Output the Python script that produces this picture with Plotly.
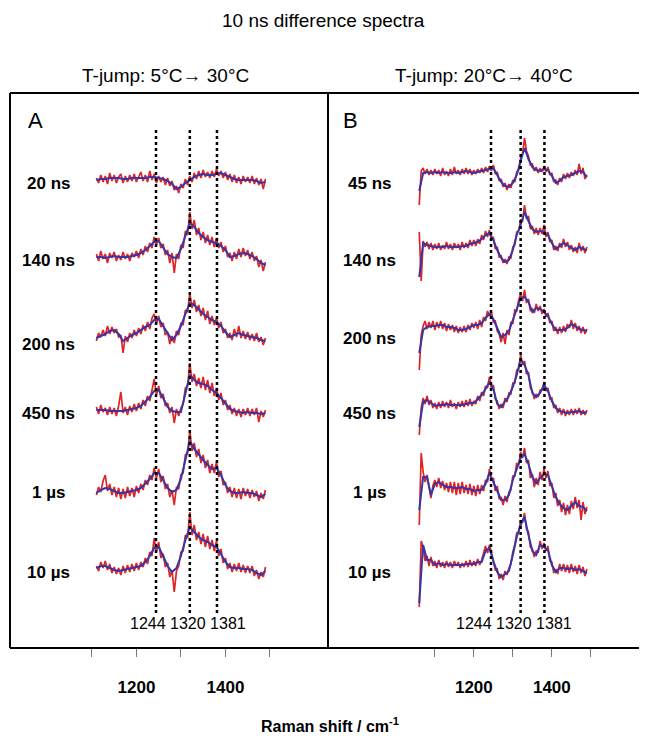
import plotly.graph_objects as go

W, H = 647, 736

# ---------------- data ----------------
peaks = [1244, 1320, 1381]
labels_A = ["20 ns", "140 ns", "200 ns", "450 ns", "1 µs", "10 µs"]
labels_B = ["45 ns", "140 ns", "200 ns", "450 ns", "1 µs", "10 µs"]
major_ticks = [1200, 1400]
major_text = ["<b>1200</b>", "<b>1400</b>"]
minor_ticks = [1100, 1300, 1500]

x_blue_A = list(range(1110, 1500, 10))
x_red_A = list(range(1110, 1495, 5))
x_blue_B = list(range(1060, 1500, 10))
x_red_B = list(range(1060, 1495, 5))

blue_A = [
    [0,1,1,2,2,2,1,1,2,2,2,2,3,3,2,1,-1,-4,-9,-7,-3,0,3,5,6,5,5,6,7,5,3,1,0,0,0,0,-1,-3,-2],
    [0,0,-1,0,1,0,0,0,1,2,4,7,11,15,16,10,3,0,-1,8,20,34,30,24,20,17,15,14,11,7,0,1,3,4,3,1,-2,-6,-8],
    [0,2,4,7,8,4,-3,0,3,5,8,11,13,18,19,12,4,-2,3,12,24,35,33,28,24,21,18,16,12,6,1,3,5,3,2,1,0,-2,-3],
    [0,0,0,-1,-1,-1,-1,0,1,2,4,8,13,19,20,12,3,-1,-2,-2,18,35,30,27,26,24,20,17,12,6,1,-1,-2,-3,-2,-3,-3,-4,-3],
    [0,3,5,4,2,0,0,1,2,3,5,9,14,20,20,13,5,1,3,14,32,52,44,38,33,28,24,25,18,8,2,0,0,1,0,0,-2,-4,-1],
    [0,2,2,0,-2,-3,-2,-1,0,1,2,6,12,20,21,12,2,-4,0,12,28,41,36,31,28,26,23,21,14,6,1,0,0,-1,-1,-2,-5,-7,-3],
]
red_A = [
    [2,-3,5,-2,4,-4,7,-1,5,-3, 3,6,-3,4,-2,5,-1,6,-2,4, 8,-1,5,-2,9,0,6,-3,4,-2, 3,-5,2,-6,-1,-10,-6,-13,-4,-8,
     1,-5,4,-2,7,1,9,2,10,3, 8,2,9,3,11,4,9,2,8,0, 6,-2,5,-3,3,-4,4,-2,3,-3, 4,-4,2,-5,1,-9,1],
    [3,-4,6,-2,3,-6,4,-1,5,-4, 2,-3,5,-2,3,-4,4,0,6,-1, 8,2,11,5,14,9,20,12,19,9, 13,2,7,-6,4,-16,3,-2,12,9,
     26,22,45,28,37,22,29,17,25,14, 22,12,20,10,19,9,15,5,11,0, 4,-4,5,-2,8,0,9,1,7,-2, 5,-4,1,-10,-3,-14,-5],
    [-3,5,1,8,2,12,4,11,5,9, 1,3,-15,2,-4,5,0,8,2,10, 4,13,7,16,9,20,24,14,22,11, 15,3,6,-6,2,-5,7,3,15,13,
     28,26,45,30,38,26,33,22,30,18, 27,14,22,13,20,10,16,5,9,0, 5,-2,9,1,12,0,7,-1,6,-2, 4,-3,5,-4,1,-7,0],
    [3,-4,5,-2,2,-5,3,-4,2,-6, 4,18,-3,3,-5,4,-2,6,-1,7, 1,10,4,14,9,20,31,15,24,12, 16,4,7,-3,3,-13,1,-6,2,6,
     22,24,47,28,36,24,32,22,33,20, 30,17,27,14,22,10,17,5,10,0, 5,-4,2,-6,1,-7,1,-5,2,-6, 1,-5,2,-12,-1,-7,0],
    [-2,6,1,12,18,2,9,-2,6,-4, 5,-6,4,-5,6,-3,5,-4,7,0, 9,3,13,8,18,13,25,15,24,11, 17,4,9,-4,3,-12,6,4,18,20,
     38,40,62,42,50,36,44,30,38,25, 33,20,29,20,31,16,22,8,11,0, 6,-4,5,-5,4,-6,5,-3,4,-5, 3,-4,2,-8,0,-6,3],
    [2,-3,6,0,7,-2,4,-5,1,-6, 0,-7,2,-5,3,-4,4,-3,5,-2, 6,1,10,4,16,12,30,16,26,10, 14,1,5,-9,-2,-24,-3,2,16,17,
     33,30,56,33,43,28,36,24,34,21, 32,19,28,17,27,12,19,5,10,-1, 5,-4,4,-3,5,-4,3,-5,2,-5, 2,-8,-2,-11,-4,-9,1],
]
blue_B = [
    [-18,0,1,0,1,0,1,0,0,1,0,1,2,1,0,1,2,3,4,5,-2,-9,-13,-14,-10,-2,12,25,14,6,3,2,4,3,-3,-10,-8,-4,-3,-2,0,2,1,-4],
    [-30,4,2,1,0,0,0,1,0,0,0,1,1,3,4,5,8,12,14,7,-3,-11,-15,-13,-3,12,22,35,26,18,15,16,15,12,4,-2,1,4,2,-1,-3,0,-2,-3],
    [-23,0,3,4,4,5,5,3,3,2,0,0,1,3,5,5,7,12,16,11,2,-7,-5,-1,10,22,32,33,28,18,22,21,18,14,6,0,0,0,2,6,4,1,0,-1],
    [-22,3,5,2,-1,0,0,1,0,0,0,0,1,2,2,6,10,16,23,16,1,-2,4,9,18,30,46,40,30,12,8,12,20,14,4,-3,-6,-7,-8,-7,-7,-6,-8,-7],
    [-20,13,13,-5,6,8,5,3,3,2,2,3,1,1,-1,0,0,6,17,8,0,-10,-10,-5,10,22,32,36,26,13,7,12,16,15,3,-7,-14,-18,-20,-16,-12,-16,-17,-21],
    [-38,20,5,5,0,2,0,1,0,0,0,0,1,1,1,3,3,14,17,4,-7,-12,-9,-6,10,28,40,48,30,14,10,20,18,15,0,-7,-3,-3,-4,-3,-5,-4,-6,-8],
]
red_B = [
    [-32,2,5,-1,4,-2,3,-2,4,-1, 3,-3,5,-2,2,-3,4,-2,6,-1, 3,-2,4,-1,5,-1,4,-2,3,-1, 4,0,5,0,6,1,7,2,8,-1,
     1,-8,-6,-14,-10,-17,-11,-15,-7,-9, 1,3,15,20,35,22,17,8,9,2, 6,0,5,1,7,1,6,-2,0,-9,
     -7,-12,-5,-9,-1,-6,0,-5,1,-3, 3,-2,9,-1,5,-6,-2],
    [15,-34,6,0,5,-2,4,-3,3,-2, 4,-3,2,-2,5,-2,3,-3,4,-1, 3,-3,5,-1,4,-1,7,1,7,1, 8,3,12,7,16,10,17,7,10,-2,
     0,-10,-9,-16,-12,-17,-10,-11,0,2, 15,16,27,26,42,28,31,18,21,13, 19,12,19,13,22,10,15,5,7,-3,
     1,-4,4,-1,8,0,5,-3,2,-5, 0,-6,4,-4,1,-6,0],
    [-40,-5,4,9,1,8,2,9,0,8, 2,9,1,7,-1,6,0,5,-2,4, -3,3,-2,4,-2,5,0,7,2,8, 1,10,3,13,9,19,14,18,8,9,
     -1,-4,-12,-3,-14,0,-5,8,6,20, 19,30,36,29,40,27,31,19,21,17, 26,19,24,16,21,13,17,7,9,-1,
     3,-4,3,-3,4,-2,6,2,10,1, 7,-1,4,-3,3,-4,1],
    [-30,-3,7,1,9,0,5,-3,2,-4, 3,-3,4,-2,3,-3,5,-2,2,-4, 3,-2,4,-2,5,-1,6,-1,4,1, 9,4,13,9,19,17,28,17,20,6,
     4,-4,1,-3,7,3,12,11,22,22, 35,36,50,40,44,31,33,17,14,6, 11,8,15,15,23,14,17,6,7,-3,
     0,-8,-3,-10,-4,-11,-5,-10,-4,-10, -4,-9,-3,-10,-5,-10,-5],
    [-35,37,18,8,15,2,-8,4,10,3, 12,2,9,0,7,-2,8,-3,8,-5, 7,-4,8,-3,5,-4,6,-5,4,-6, 5,-4,5,-1,10,8,21,10,12,-1,
     4,-9,-7,-15,-6,-12,-2,0,14,14, 27,25,38,32,42,27,30,12,16,3, 12,5,18,10,21,12,19,4,7,-8,
     -3,-16,-10,-22,-13,-25,-15,-24,-11,-19, -7,-18,-10,-30,-12,-24,-17],
    [-42,24,18,4,9,-1,8,-1,4,-3, 5,-2,3,-3,4,-2,3,-3,4,-1, 3,-3,2,-2,4,-2,5,-1,4,-1, 6,0,5,12,19,12,20,13,2,-5,
     -4,-14,-9,-15,-6,-10,-3,1,13,20, 32,33,44,43,52,36,33,18,16,8, 14,13,24,16,22,14,19,4,3,-8,
     -4,-9,1,-6,1,-7,0,-8,1,-7, -1,-9,0,-8,-2,-11,-4],
]

# ---------------- layout helpers ----------------
OFF = 8  # page body margin: screen px = figure px + 8
BOX_TOP, BOX_BOT, BOX_L, BOX_MID = 93, 648, 10, 328
offsets_A = [468, 391, 310, 238, 155, 80]
offsets_B = [475, 401, 318, 243, 158, 83]
label_y_A = [183, 260, 345, 414, 492, 572]
label_y_B = [183, 260, 338, 414, 492, 572]
RED = "#de2424"
BLUE = "#3636aa"
FONT = "Liberation Sans, Arial, sans-serif"


def px(x):
    return (x - OFF) / W


def py(y):
    return 1 - (y - OFF) / H


fig = go.Figure()

for panel, (xb, xr, blues, reds, offs) in enumerate([
        (x_blue_A, x_red_A, blue_A, red_A, offsets_A),
        (x_blue_B, x_red_B, blue_B, red_B, offsets_B)]):
    xa = "x" if panel == 0 else "x2"
    ya = "y" if panel == 0 else "y2"
    for i in range(6):
        fig.add_trace(go.Scatter(x=xr, y=[v + offs[i] for v in reds[i]], mode="lines",
                                 line=dict(color=RED, width=1.7), xaxis=xa, yaxis=ya,
                                 hoverinfo="skip", showlegend=False))
    for i in range(6):
        fig.add_trace(go.Scatter(x=xb, y=[v + offs[i] for v in blues[i]], mode="lines",
                                 line=dict(color=BLUE, width=2), xaxis=xa, yaxis=ya,
                                 hoverinfo="skip", showlegend=False))

shapes = []
for xa, ya in (("x", "y"), ("x2", "y2")):
    for p in peaks:
        shapes.append(dict(type="line", xref=xa, yref=ya, x0=p, x1=p,
                           y0=BOX_BOT - 613, y1=BOX_BOT - 128,
                           line=dict(color="black", width=2.5, dash="dot")))
lw = 2
shapes += [
    dict(type="line", xref="paper", yref="paper", x0=px(BOX_L), x1=1, y0=py(BOX_TOP), y1=py(BOX_TOP), line=dict(color="black", width=lw)),
    dict(type="line", xref="paper", yref="paper", x0=px(BOX_L), x1=1, y0=py(BOX_BOT), y1=py(BOX_BOT), line=dict(color="black", width=lw)),
    dict(type="line", xref="paper", yref="paper", x0=px(BOX_L), x1=px(BOX_L), y0=py(BOX_TOP), y1=py(BOX_BOT), line=dict(color="black", width=lw)),
    dict(type="line", xref="paper", yref="paper", x0=px(BOX_MID), x1=px(BOX_MID), y0=py(BOX_TOP), y1=py(BOX_BOT), line=dict(color="black", width=lw)),
]


def note(text, x, y, size, bold=False):
    t = "<b>%s</b>" % text if bold else text
    return dict(text=t, x=px(x), y=py(y), xref="paper", yref="paper", xanchor="center",
                yanchor="middle", showarrow=False, font=dict(size=size, color="black", family=FONT))


ann = [
    note("10 ns difference spectra", 323, 21, 19),
    note("T-jump: 5°C→ 30°C", 165, 75, 19),
    note("T-jump: 20°C→ 40°C", 484, 75, 19),
    note("A", 35, 121, 22),
    note("B", 350, 121, 22),
]
for lab, yy in zip(labels_A, label_y_A):
    ann.append(note(lab, 48, yy, 17, bold=True))
for lab, yy in zip(labels_B, label_y_B):
    ann.append(note(lab, 369, yy, 17, bold=True))
peak_text = " ".join(str(p) for p in peaks)
ann.append(note(peak_text, 188, 623, 16))
ann.append(note(peak_text, 514, 623, 16))
ann.append(note("Raman shift / cm<sup>-1</sup>", 330, 725, 16, bold=True))

# x mapping: panel A px = 156 + (cm-1244)*0.445 ; panel B px = 491 + (cm-1244)*0.39
rA = [1244 - (156 - BOX_L) / 0.445, 1244 + (BOX_MID - 156) / 0.445]
rB = [1244 - (491 - BOX_MID) / 0.39, 1244 + (W - 491) / 0.39]

xcommon = dict(showgrid=False, zeroline=False, showline=False, ticks="outside", ticklen=8,
               tickwidth=1, tickcolor="#777777", tickvals=major_ticks, ticktext=major_text,
               tickfont=dict(size=17, color="black", family=FONT), ticklabelstandoff=16,
               minor=dict(tickvals=minor_ticks, ticks="outside", ticklen=8, tickwidth=1,
                          tickcolor="#777777", showgrid=False),
               fixedrange=True)
ycommon = dict(showgrid=False, zeroline=False, showline=False, showticklabels=False, ticks="",
               range=[0, BOX_BOT - BOX_TOP], fixedrange=True)

fig.update_layout(
    width=W, height=H, margin=dict(l=0, r=0, t=0, b=0),
    paper_bgcolor="white", plot_bgcolor="rgba(0,0,0,0)",
    xaxis=dict(domain=[px(BOX_L), px(BOX_MID)], range=rA, anchor="y", **xcommon),
    xaxis2=dict(domain=[px(BOX_MID), px(W)], range=rB, anchor="y2", **xcommon),
    yaxis=dict(domain=[py(BOX_BOT), py(BOX_TOP)], anchor="x", **ycommon),
    yaxis2=dict(domain=[py(BOX_BOT), py(BOX_TOP)], anchor="x2", **ycommon),
    shapes=shapes, annotations=ann, showlegend=False,
    font=dict(family=FONT, color="black"),
)

fig.write_html("out.html")
